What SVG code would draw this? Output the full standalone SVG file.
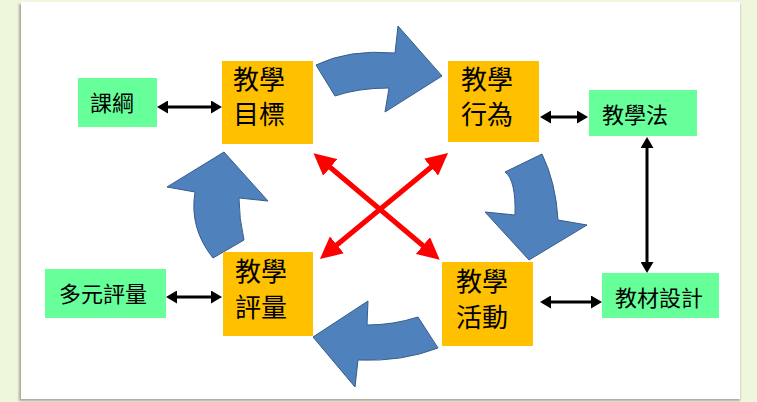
<svg xmlns="http://www.w3.org/2000/svg" width="757" height="402" viewBox="0 0 757 402">
  <style>
    .orange { fill: #FFC000; }
    .green { fill: #66FF99; }
    .big { font-family: "Noto Sans CJK TC", "Noto Sans CJK SC", sans-serif; font-size: 26px; fill: #000; }
    .small { font-family: "Noto Sans CJK TC", "Noto Sans CJK SC", sans-serif; font-size: 22px; fill: #000; }
    .blue { fill: #4F81BD; stroke: #385D8A; stroke-width: 1; stroke-linejoin: miter; }
    .blk { stroke: #000; stroke-width: 3; fill: none; marker-start: url(#bh); marker-end: url(#bh); }
    .red { stroke: #FF0000; stroke-width: 5; fill: none; marker-start: url(#rh); marker-end: url(#rh); }
  </style>
  <defs>
    <marker id="bh" markerUnits="userSpaceOnUse" markerWidth="11" markerHeight="13" viewBox="0 0 11 13" refX="2" refY="6.5" orient="auto-start-reverse">
      <path d="M0,0 L11,6.5 L0,13 z" fill="#000"/>
    </marker>
    <marker id="rh" markerUnits="userSpaceOnUse" markerWidth="22" markerHeight="22" viewBox="0 0 22 22" refX="3" refY="11" orient="auto-start-reverse">
      <path d="M0,0 L22,11 L0,22 z" fill="#FF0000"/>
    </marker>
    <filter id="sh" x="-5%" y="-5%" width="110%" height="110%">
      <feGaussianBlur stdDeviation="1.2"/>
    </filter>
  </defs>

  <rect x="0" y="0" width="757" height="402" fill="#EEF7DC"/>
  <rect x="19" y="4" width="721" height="397" fill="#A8A89C" filter="url(#sh)"/>
  <rect x="21" y="2" width="719" height="397" fill="#FFFFFF"/>

  <g id="connectors">
    <path class="blue" d="M316,65 Q348.5,49 395,53 L398,26 L442,76 L385,112 L389,88 Q358,88 335,96 Z"/>
    <path class="blue" d="M505,172 L542,154 Q556,183 558,220 L587,225 L529,260 L485,212 L515,215 Q516,180 505,172 Z"/>
    <path class="blue" d="M418,317 L438,348 Q402,362 358,360 L355,387 L313,337 L368,301 L367,325 Q393,325 418,317 Z"/>
    <path class="blue" d="M224,152 L268,201 L239,198 Q239,218 244,240 L213,258 Q189,228 195,192 L167,187 Z"/>

    <line class="red" x1="328" y1="165.5" x2="425.2" y2="247.5"/>
    <line class="red" x1="433.4" y1="165.2" x2="334.6" y2="246.8"/>

    <line class="blk" x1="166" y1="107" x2="213" y2="107"/>
    <line class="blk" x1="549" y1="117" x2="579" y2="117"/>
    <line class="blk" x1="175" y1="297" x2="213" y2="297"/>
    <line class="blk" x1="549" y1="302" x2="593" y2="302"/>
    <line class="blk" x1="647" y1="146" x2="647" y2="264"/>
  </g>

  <g id="goal">
    <rect class="orange" x="222" y="61" width="91" height="83"/>
    <text class="big"><tspan x="233" y="89">教學</tspan><tspan x="233" y="124">目標</tspan></text>
  </g>
  <g id="behavior">
    <rect class="orange" x="448" y="61" width="91" height="81"/>
    <text class="big"><tspan x="461" y="89">教學</tspan><tspan x="461" y="124">行為</tspan></text>
  </g>
  <g id="assessment">
    <rect class="orange" x="223" y="252" width="90" height="84"/>
    <text class="big"><tspan x="235" y="281">教學</tspan><tspan x="235" y="317">評量</tspan></text>
  </g>
  <g id="activity">
    <rect class="orange" x="442" y="262" width="91" height="84"/>
    <text class="big"><tspan x="456" y="291">教學</tspan><tspan x="456" y="327">活動</tspan></text>
  </g>

  <g id="curriculum">
    <rect class="green" x="78" y="78" width="79" height="49"/>
    <text class="small" x="90" y="111">課綱</text>
  </g>
  <g id="method">
    <rect class="green" x="589" y="90" width="108" height="46"/>
    <text class="small" x="602" y="123">教學法</text>
  </g>
  <g id="multi">
    <rect class="green" x="45" y="269" width="121" height="49"/>
    <text class="small" x="59" y="302">多元評量</text>
  </g>
  <g id="material">
    <rect class="green" x="602" y="273" width="117" height="45"/>
    <text class="small" x="615" y="306">教材設計</text>
  </g>
</svg>
